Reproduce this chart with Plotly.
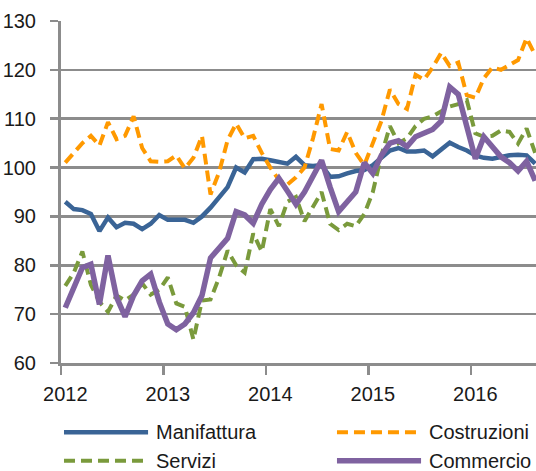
import plotly.graph_objects as go

# Monthly observations, Jan 2012 - Aug 2016
months = [f"{y}-{m:02d}" for y in range(2012, 2017) for m in range(1, 13)][:56]
years = ["2012", "2013", "2014", "2015", "2016"]

manifattura = [93.0, 91.5, 91.3, 90.5, 87.0, 89.8, 87.8, 88.7, 88.5, 87.4,
               88.5, 90.3, 89.3, 89.4, 89.3, 88.7, 90.0, 91.8, 94.0, 96.0,
               100.0, 99.0, 101.7, 101.8, 101.5, 101.2, 100.8, 102.2, 100.5, 100.3,
               100.5, 98.1, 98.2, 98.8, 99.3, 99.5, 100.5, 102.0, 103.5, 104.0,
               103.3, 103.3, 103.5, 102.3, 103.8, 105.1, 104.2, 103.5, 102.5, 102.0,
               101.8, 102.2, 102.5, 102.6, 102.5, 100.8]

costruzioni = [101.0, 103.0, 105.0, 106.5, 104.5, 109.3, 105.8, 106.5, 110.5, 104.0,
               101.3, 101.2, 101.3, 102.5, 99.8, 102.0, 106.5, 94.5, 99.0, 105.6,
               109.0, 106.0, 106.5, 103.0, 100.0, 97.5, 96.5, 98.0, 100.0, 106.0,
               113.0, 103.8, 103.5, 107.3, 103.0, 100.5, 105.0, 109.5, 116.0, 113.0,
               112.0, 119.0, 118.0, 120.5, 123.5, 120.8, 121.5, 114.8, 114.3, 118.3,
               120.5, 120.0, 121.0, 122.0, 126.5, 123.0]

servizi = [75.8, 78.5, 82.8, 76.0, 72.5, 70.5, 73.8, 72.8, 74.0, 76.3,
           74.0, 75.0, 77.5, 72.2, 71.5, 64.8, 72.8, 73.0, 77.5, 83.0,
           80.0, 78.5, 86.5, 82.8, 91.5, 88.0, 93.0, 94.0, 89.0, 92.0,
           95.0, 88.5, 87.2, 88.5, 88.0, 90.5, 95.0, 102.5, 108.5, 105.0,
           106.0, 108.5, 110.0, 110.5, 111.5, 112.5, 113.0, 113.8, 107.0, 106.3,
           106.5, 107.6, 107.3, 104.9, 108.0, 103.0]

commercio = [71.3, 75.5, 79.5, 80.2, 72.0, 82.0, 73.5, 69.5, 73.8, 76.8,
             78.2, 72.5, 68.0, 66.8, 68.0, 70.3, 73.8, 81.5, 83.5, 85.5,
             91.0, 90.3, 88.6, 92.5, 95.5, 97.8, 95.2, 92.5, 95.0, 98.5,
             101.5, 96.0, 91.0, 93.0, 95.0, 101.0, 98.8, 102.5, 105.0, 105.5,
             104.3, 106.3, 107.0, 107.8, 109.5, 116.5, 115.0, 108.5, 101.8, 106.3,
             104.2, 102.2, 101.0, 99.3, 101.3, 97.3]

series_names = ["Manifattura", "Costruzioni", "Servizi", "Commercio"]
series_values = [manifattura, costruzioni, servizi, commercio]
series_colors = ["#3A6496", "#FF9900", "#7A9A3C", "#7F62A0"]
series_dash = ["solid", "11px,6px", "11px,6px", "solid"]
series_width = [4.5, 4, 4, 5.5]

FONT = "Liberation Sans, Arial, sans-serif"
FSIZE = 20
GRID = "#8C8C8C"

x = list(range(len(months)))

fig = go.Figure()
for name, vals, col, dash, w in zip(series_names, series_values, series_colors,
                                     series_dash, series_width):
    fig.add_trace(go.Scatter(x=x, y=vals, name=name, mode="lines",
                             line=dict(color=col, width=w, dash=dash),
                             showlegend=False))

# manual legend (2 columns x 2 rows)
leg_pos = [(0.0063, -0.2026), (0.581, -0.2026), (0.0063, -0.2857), (0.581, -0.2857)]
sample_len = 0.177
for (lx, ly), name, col, dash, w in zip(leg_pos, series_names, series_colors,
                                        series_dash, series_width):
    fig.add_shape(type="line", xref="paper", yref="paper",
                  x0=lx, x1=lx + sample_len, y0=ly, y1=ly,
                  line=dict(color=col, width=w, dash=dash))
    fig.add_annotation(xref="paper", yref="paper", x=lx + sample_len + 0.012, y=ly,
                       text=name, showarrow=False, xanchor="left", yanchor="middle",
                       font=dict(family=FONT, size=FSIZE, color="#1A1A1A"))

tickvals = [months.index(f"{y}-01") for y in years]

fig.update_layout(
    width=536, height=471,
    margin=dict(l=61, r=0, t=21, b=108),
    paper_bgcolor="white", plot_bgcolor="white",
    font=dict(family=FONT, size=FSIZE, color="#1A1A1A"),
    xaxis=dict(range=[-0.5, 55.1], tickvals=tickvals, ticktext=years,
               ticks="", showgrid=False, zeroline=False, automargin=False,
               showline=True, linecolor=GRID, linewidth=2.5,
               ticklabelstandoff=11,
               minor=dict(tick0=-0.5, dtick=12, ticks="outside", ticklen=9,
                          tickwidth=2.5, tickcolor=GRID, showgrid=False)),
    yaxis=dict(range=[60, 130], dtick=10, tick0=60, showgrid=True, automargin=False,
               gridcolor=GRID, gridwidth=2.5, zeroline=False,
               showline=True, linecolor=GRID, linewidth=3,
               ticks="outside", ticklen=8, tickwidth=2.5, tickcolor=GRID,
               ticklabelstandoff=10),
)

fig.write_html("out.html",
               config={"displayModeBar": False, "staticPlot": True},
               post_script="document.body.style.margin='0px';"
                           "document.documentElement.style.overflow='hidden';")
